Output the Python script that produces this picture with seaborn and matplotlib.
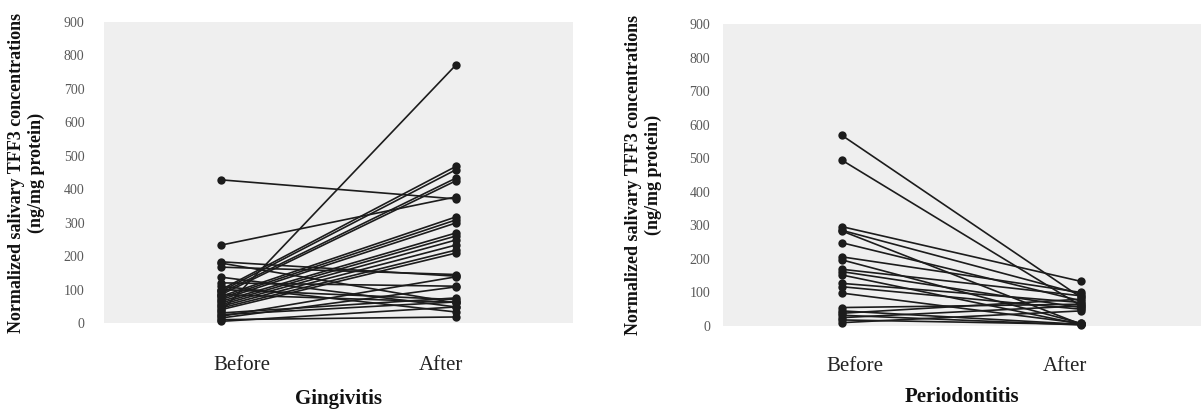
import numpy as np
import pandas as pd
import matplotlib
matplotlib.use("Agg")
import matplotlib.pyplot as plt
import seaborn as sns

# ---- data ----
timepoints = ["Before", "After"]

ging_before = [428, 233, 183, 179, 167, 137, 120, 110, 100, 95, 90, 85, 80, 75, 70,
               65, 60, 55, 50, 45, 40, 35, 30, 25, 20, 15, 10, 5, 100, 85]
ging_after = [371, 377, 140, 60, 145, 48, 110, 33, 468, 458, 433, 425, 317, 308, 299,
              269, 260, 248, 233, 218, 209, 771, 75, 63, 138, 108, 18, 48, 70, 62]

perio_before = [568, 494, 296, 285, 283, 248, 206, 197, 169, 162, 152, 127, 117, 98,
                55, 45, 38, 32, 25, 18, 10]
perio_after = [85, 60, 133, 95, 5, 75, 100, 8, 90, 55, 5, 70, 50, 8,
               65, 5, 80, 3, 60, 5, 45]

panel_titles = ["Gingivitis", "Periodontitis"]
ylabel = "Normalized salivary TFF3 concentrations\n(ng/mg protein)"
yticks = list(range(0, 901, 100))


def long_df(before, after):
    rows = []
    for i, (b, a) in enumerate(zip(before, after)):
        rows.append({"subject": i, "time": 0, "value": b})
        rows.append({"subject": i, "time": 1, "value": a})
    return pd.DataFrame(rows)


sns.set_theme(style="white")
plt.rcParams["font.family"] = ["Liberation Serif", "DejaVu Serif"]

fig = plt.figure(figsize=(12.01, 4.15), dpi=100)
W, H = 1201.0, 415.0
# axes rectangles in pixel terms (left, top, right, bottom)
rects = [(104, 22, 573, 323), (722.5, 24, 1200.5, 326)]
label_pos = [(0.089, 0.936), (0.052, 0.934)]
tick_pads = [14, 9]
x_pads = [24, 22]
title_pads = [10, 8]

datasets = [(ging_before, ging_after), (perio_before, perio_after)]

for k, ((b, a), (l, t, r, bt)) in enumerate(zip(datasets, rects)):
    ax = fig.add_axes([l / W, 1 - bt / H, (r - l) / W, (bt - t) / H])
    ax.set_facecolor("#efefef")
    df = long_df(b, a)
    sns.lineplot(data=df, x="time", y="value", units="subject", estimator=None,
                 color="#1c1c1c", marker="o", markersize=6, markeredgewidth=0,
                 linewidth=1.2, ax=ax, legend=False, clip_on=False)
    ax.set_xlim(-0.5, 1.5)
    ax.set_ylim(0, 900)
    for s in ax.spines.values():
        s.set_visible(False)
    ax.grid(False)
    ax.set_yticks(yticks)
    ax.set_yticklabels([str(v) for v in yticks], color="#595959", fontsize=10)
    ax.tick_params(axis="y", length=0, pad=tick_pads[k])
    ax.set_xticks(list(label_pos[k]))
    ax.set_xticklabels(timepoints, fontsize=15, color="#222222")
    ax.tick_params(axis="x", length=0, pad=x_pads[k])
    ax.set_xlabel(panel_titles[k], fontsize=15, fontweight="bold", color="#111111",
                  labelpad=title_pads[k])
    ax.set_ylabel(ylabel, fontsize=13, fontweight="bold", color="#111111",
                  linespacing=1.2)
    ax.yaxis.label.set_verticalalignment("center")
    ax.yaxis.set_label_coords(-0.165, 0.5)

fig.savefig("out.png", dpi=100)
